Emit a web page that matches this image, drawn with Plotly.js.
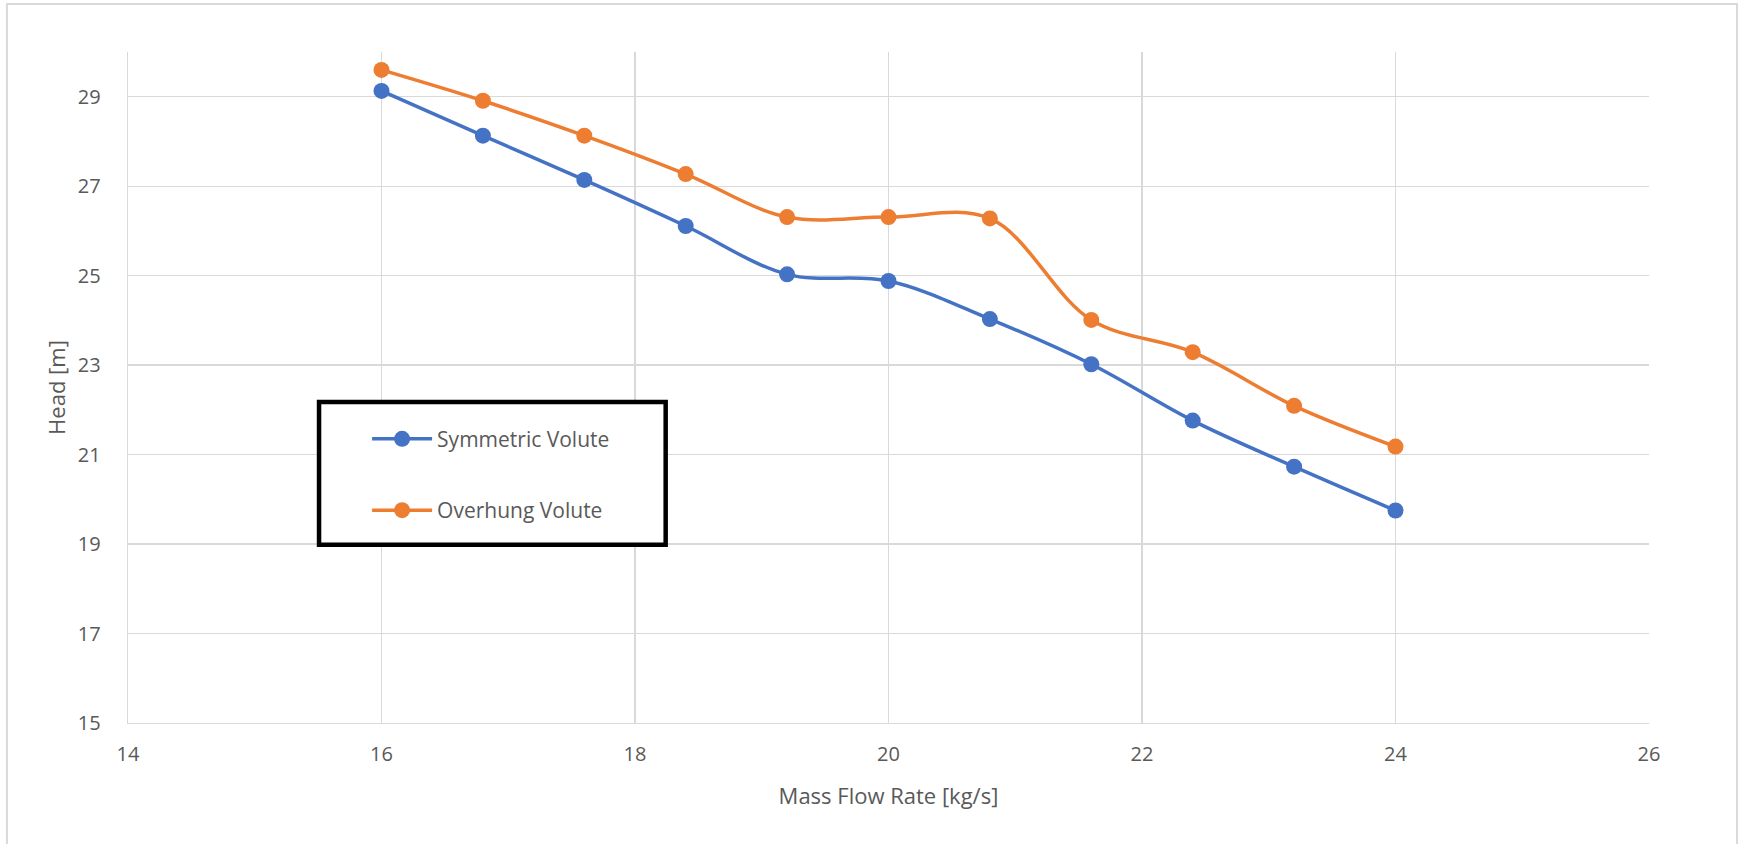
<!DOCTYPE html>
<html>
<head>
<meta charset="utf-8">
<script src="https://cdn.plot.ly/plotly-3.0.1.min.js"></script>
<style>
  html, body { margin: 0; padding: 0; background: #ffffff; }
  #chart { width: 1744px; height: 844px; }
</style>
</head>
<body>
<div id="chart"></div>
<script>
// Data
const massFlowRate = [16, 16.8, 17.6, 18.4, 19.2, 20, 20.8, 21.6, 22.4, 23.2, 24];
const symmetricVolute = [29.13, 28.13, 27.14, 26.11, 25.03, 24.88, 24.03, 23.02, 21.76, 20.73, 19.75];
const overhungVolute = [29.60, 28.91, 28.13, 27.27, 26.31, 26.31, 26.28, 24.01, 23.29, 22.09, 21.18];
const seriesNames = ["Symmetric Volute", "Overhung Volute"];
const xTickValues = [14, 16, 18, 20, 22, 24, 26];
const yTickValues = [15, 17, 19, 21, 23, 25, 27, 29];

const FONT = "Open Sans, sans-serif";
const TEXT = "#595959";
const GRID = "#d9d9d9";

const traces = [
  {
    x: massFlowRate, y: symmetricVolute, name: seriesNames[0],
    type: "scatter", mode: "lines+markers", legendgroup: "a",
    line: { color: "#4472C4", width: 3.5, shape: "spline", smoothing: 1 },
    marker: { color: "#4472C4", size: 16 }
  },
  {
    x: massFlowRate, y: overhungVolute, name: seriesNames[1],
    type: "scatter", mode: "lines+markers", legendgroup: "b",
    line: { color: "#ED7D31", width: 3.5, shape: "spline", smoothing: 1 },
    marker: { color: "#ED7D31", size: 16 }
  }
];

const layout = {
  width: 1744, height: 844,
  margin: { l: 128, r: 95, t: 52, b: 121 },
  paper_bgcolor: "#ffffff", plot_bgcolor: "#ffffff",
  font: { family: FONT, color: TEXT, size: 20 },
  showlegend: true,
  legend: {
    x: 0.1572, y: 0.4535, xanchor: "left", yanchor: "top",
    bgcolor: "rgba(0,0,0,0)", borderwidth: 0,
    font: { family: FONT, size: 21, color: TEXT },
    tracegroupgap: 41, itemwidth: 60
  },
  xaxis: {
    range: [14, 26], tickvals: xTickValues, ticktext: xTickValues.map(String),
    showgrid: true, gridcolor: GRID, gridwidth: 1.3,
    showline: true, linecolor: GRID, linewidth: 1.3,
    zeroline: false, ticks: "", ticklabelstandoff: 13,
    tickfont: { family: FONT, size: 20, color: TEXT },
    title: { text: "Mass Flow Rate [kg/s]", font: { family: FONT, size: 22, color: TEXT }, standoff: 22 }
  },
  yaxis: {
    range: [15, 30], tickvals: yTickValues, ticktext: yTickValues.map(String),
    showgrid: true, gridcolor: GRID, gridwidth: 1.3,
    showline: true, linecolor: GRID, linewidth: 1.3,
    zeroline: false, ticks: "", ticklabelstandoff: 22,
    tickfont: { family: FONT, size: 20, color: TEXT },
    title: { text: "Head [m]", font: { family: FONT, size: 22, color: TEXT }, standoff: 6 }
  },
  shapes: [
    // legend frame
    { type: "rect", xref: "paper", yref: "paper", layer: "above",
      x0: 0.1256, x1: 0.3535, y0: 0.2655, y1: 0.4785,
      line: { color: "#000000", width: 4.5 }, fillcolor: "#ffffff" },
    // outer chart border
    { type: "rect", xref: "paper", yref: "paper", layer: "below",
      x0: -0.0796, x1: 1.0579, y0: -0.19, y1: 1.0715,
      line: { color: GRID, width: 2 }, fillcolor: "rgba(0,0,0,0)" }
  ]
};

Plotly.newPlot("chart", traces, layout, { displayModeBar: false, staticPlot: true });
</script>
</body>
</html>
